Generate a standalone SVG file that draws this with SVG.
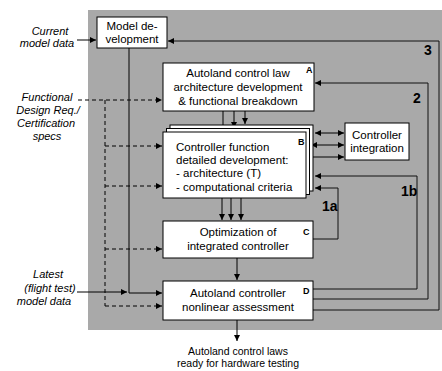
<svg xmlns="http://www.w3.org/2000/svg" width="442" height="371" viewBox="0 0 442 371">
<defs>
<style>
.box{fill:#fff;stroke:#000;stroke-width:1}
.t{font-family:"Liberation Sans",Arial,sans-serif;font-size:11.5px;fill:#000}
.c{text-anchor:middle}
.lbl{font-family:"Liberation Sans",Arial,sans-serif;font-size:11px;font-style:italic;fill:#000;text-anchor:middle}
.tag{font-family:"Liberation Sans",Arial,sans-serif;font-size:9px;font-weight:bold;fill:#000}
.loopn{font-family:"Liberation Sans",Arial,sans-serif;font-size:14px;font-weight:bold;fill:#000}
.ln{fill:none;stroke:#000;stroke-width:1}
.dash{fill:none;stroke:#000;stroke-width:1;stroke-dasharray:4 3}
.loop{fill:none;stroke:#111;stroke-width:1}
</style>
<marker id="ah" markerUnits="userSpaceOnUse" markerWidth="7" markerHeight="6" refX="6" refY="3" orient="auto-start-reverse">
<path d="M0,0 L6,3 L0,6 z" fill="#000"/>
</marker>
</defs>
<rect x="88" y="10" width="354" height="320" fill="#a9a9a9"/>
<g id="connectors">
<line class="ln" x1="77" y1="40" x2="96" y2="40" marker-end="url(#ah)"/>
<polyline class="loop" points="313,310 439,310 439,41 168,41" marker-end="url(#ah)"/>
<polyline class="loop" points="313,299 428,299 428,83 315,83" marker-end="url(#ah)"/>
<polyline class="loop" points="313,289 417,289 417,176 315,176" marker-end="url(#ah)"/>
<polyline class="loop" points="313,239 338,239 338,188 315,188" marker-end="url(#ah)"/>
<line class="ln" x1="315" y1="133" x2="344" y2="133" marker-start="url(#ah)" marker-end="url(#ah)"/>
<line class="ln" x1="311" y1="145" x2="344" y2="145" marker-start="url(#ah)" marker-end="url(#ah)"/>
<line class="ln" x1="307" y1="157" x2="344" y2="157" marker-start="url(#ah)" marker-end="url(#ah)"/>
<line class="ln" x1="223" y1="111" x2="223" y2="131" marker-end="url(#ah)"/>
<line class="ln" x1="234" y1="111" x2="234" y2="128" marker-end="url(#ah)"/>
<line class="ln" x1="245" y1="111" x2="245" y2="124" marker-end="url(#ah)"/>
<line class="ln" x1="222" y1="198" x2="222" y2="220" marker-end="url(#ah)"/>
<line class="ln" x1="231" y1="198" x2="231" y2="220" marker-end="url(#ah)"/>
<line class="ln" x1="241" y1="198" x2="241" y2="220" marker-end="url(#ah)"/>
<line class="ln" x1="237" y1="258" x2="237" y2="280" marker-end="url(#ah)"/>
<line class="ln" x1="237" y1="320" x2="237" y2="341" marker-end="url(#ah)"/>
<line class="dash" x1="78" y1="100" x2="162" y2="100" marker-end="url(#ah)"/>
<line class="dash" x1="105" y1="100" x2="105" y2="306"/>
<line class="dash" x1="105" y1="146" x2="162" y2="146" marker-end="url(#ah)"/>
<line class="dash" x1="105" y1="186" x2="162" y2="186" marker-end="url(#ah)"/>
<line class="dash" x1="105" y1="249" x2="162" y2="249" marker-end="url(#ah)"/>
<line class="dash" x1="105" y1="306" x2="162" y2="306" marker-end="url(#ah)"/>
<polyline class="ln" points="129,48 129,293 162,293" marker-end="url(#ah)"/>
<line class="ln" x1="77" y1="292" x2="127" y2="292" marker-end="url(#ah)"/>
</g>
<g id="model-dev">
<rect class="box" x="97" y="17" width="70" height="31"/>
<text class="t c" x="132" y="30">Model de-</text>
<text class="t c" x="132" y="43">velopment</text>
</g>
<g id="node-A">
<rect class="box" x="163" y="63" width="151" height="48"/>
<text class="t c" x="238" y="77">Autoland control law</text>
<text class="t c" x="238" y="91">architecture development</text>
<text class="t c" x="238" y="105">&amp; functional breakdown</text>
<text class="tag" x="306" y="73">A</text>
</g>
<g id="node-B">
<rect class="box" x="170" y="125" width="143" height="66"/>
<rect class="box" x="166.5" y="128.5" width="143" height="66"/>
<rect class="box" x="163" y="132" width="143" height="66"/>
<text class="t" x="176" y="151">Controller function</text>
<text class="t" x="176" y="164">detailed development:</text>
<text class="t" x="176" y="177">- architecture (T)</text>
<text class="t" x="176" y="191">- computational criteria</text>
<text class="tag" x="298" y="145">B</text>
</g>
<g id="integration">
<rect class="box" x="345" y="123" width="64" height="37"/>
<text class="t c" x="377" y="139">Controller</text>
<text class="t c" x="377" y="152">integration</text>
</g>
<g id="node-C">
<rect class="box" x="163" y="221" width="150" height="37"/>
<text class="t c" x="238" y="236">Optimization of</text>
<text class="t c" x="238" y="250">integrated controller</text>
<text class="tag" x="303" y="235">C</text>
</g>
<g id="node-D">
<rect class="box" x="163" y="281" width="150" height="39"/>
<text class="t c" x="238" y="297">Autoland controller</text>
<text class="t c" x="238" y="311">nonlinear assessment</text>
<text class="tag" x="303" y="294">D</text>
</g>
<g id="loop-labels">
<text class="loopn" x="424" y="55">3</text>
<text class="loopn" x="413" y="103">2</text>
<text class="loopn" x="401" y="196">1b</text>
<text class="loopn" x="322" y="211">1a</text>
</g>
<g id="inputs">
<text class="lbl" x="50" y="35">Current</text>
<text class="lbl" x="47" y="47">model data</text>
<text class="lbl" x="47" y="101">Functional</text>
<text class="lbl" x="48" y="114">Design Req./</text>
<text class="lbl" x="46" y="127">Certification</text>
<text class="lbl" x="47" y="140">specs</text>
<text class="lbl" x="48" y="278">Latest</text>
<text class="lbl" x="50" y="292">(flight test)</text>
<text class="lbl" x="44" y="305">model data</text>
</g>
<g id="output">
<text class="t c" x="238" y="355" style="font-size:10.5px">Autoland control laws</text>
<text class="t c" x="238" y="367" style="font-size:10.5px">ready for hardware testing</text>
</g>
</svg>
